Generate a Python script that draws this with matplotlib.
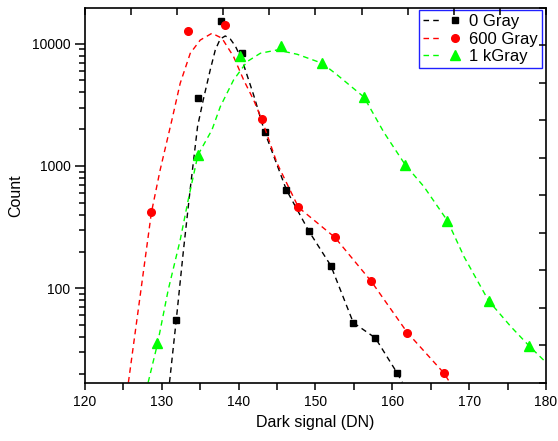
import matplotlib
matplotlib.use("Agg")
import matplotlib.pyplot as plt
from matplotlib.ticker import LogLocator, NullFormatter, MultipleLocator
from matplotlib.legend_handler import HandlerTuple

plt.rcParams["font.family"] = ["Liberation Sans", "DejaVu Sans"]

# measured points (histogram bins)
x_0gy = [131.87, 134.74, 137.65, 140.43, 143.39, 146.22, 149.13, 152.0, 154.9, 157.79, 160.65]
y_0gy = [55, 3580, 15400, 8440, 1900, 637, 294, 153, 52.4, 39.3, 20.2]
x_600gy = [128.65, 133.43, 138.17, 143.0, 147.78, 152.52, 157.26, 161.96, 166.74]
y_600gy = [418, 12700, 14200, 2410, 459, 261, 114, 43.4, 20.2]
x_1kgy = [129.39, 134.74, 140.22, 145.52, 150.87, 156.3, 161.7, 167.17, 172.52, 177.83]
y_1kgy = [35.7, 1232, 7980, 9630, 6913, 3662, 1018, 357, 79.3, 33.7]

# dashed fit curves
fx_0gy = [131.0, 131.87, 132.82, 133.73, 134.65, 135.39, 136.3, 136.96, 137.6, 138.26, 138.91,
          139.56, 140.44, 141.95, 143.39, 146.22, 149.13, 152.0, 154.92, 157.79, 160.65, 161.3]
fy_0gy = [17, 54.5, 206, 677, 2100, 3470, 6100, 8880, 10920, 11560, 10920,
          9580, 7360, 3800, 1897, 637, 294, 153, 52.4, 39.3, 20.2, 17]
fx_600gy = [125.65, 127.17, 128.65, 129.78, 131.31, 132.39, 133.7, 135.0, 136.53, 137.83, 139.34,
            140.65, 141.95, 143.0, 145.0, 147.78, 152.52, 157.26, 161.96, 166.74, 167.48]
fy_600gy = [17, 86, 418, 927, 2377, 4740, 8340, 10700, 12160, 11070, 7830,
            5050, 3465, 2410, 1052, 459, 261, 114, 43.4, 20.2, 17]
fx_1kgy = [128.22, 129.43, 130.83, 132.39, 133.43, 134.7, 136.52, 137.61, 139.34, 141.09, 142.83,
           145.0, 147.61, 150.87, 152.83, 156.3, 158.91, 161.7, 164.12, 167.17, 169.34, 172.52,
           175.43, 177.83, 180.0]
fy_1kgy = [17, 35, 97, 248, 527, 1232, 1970, 3055, 5050, 7130, 8350,
           8880, 8190, 6913, 5550, 3662, 1880, 1018, 677, 357, 181, 79.3,
           48.6, 33.7, 24.8]

labels = ["0 Gray", "600 Gray", "1 kGray"]
dash = (0, (4, 3))

fig = plt.figure(figsize=(5.58, 4.41), dpi=100)
ax = fig.add_axes([0.1523, 0.1322, 0.8262, 0.8497])

l0, = ax.plot(fx_0gy, fy_0gy, color="black", lw=1.0, linestyle=dash)
m0, = ax.plot(x_0gy, y_0gy, "s", color="black", ms=4.5, linestyle="none")
l1, = ax.plot(fx_600gy, fy_600gy, color="red", lw=1.0, linestyle=dash)
m1, = ax.plot(x_600gy, y_600gy, "o", color="red", ms=5.5, linestyle="none")
l2, = ax.plot(fx_1kgy, fy_1kgy, color="#00ff00", lw=1.0, linestyle=dash)
m2, = ax.plot(x_1kgy, y_1kgy, "^", color="#00ff00", ms=7, linestyle="none")

ax.set_yscale("log")
ax.set_xlim(120, 180)
ax.set_ylim(16.93, 19570)
ax.set_xticks(range(120, 181, 10))
ax.xaxis.set_minor_locator(MultipleLocator(5))
ax.set_yticks([100, 1000, 10000])
ax.set_yticklabels(["100", "1000", "10000"])
ax.yaxis.set_minor_locator(LogLocator(base=10, subs=range(2, 10)))
ax.yaxis.set_minor_formatter(NullFormatter())
ax.tick_params(which="major", direction="out", length=7, width=1.1, labelsize=10)
ax.tick_params(which="minor", direction="out", length=4, width=1.1)
ax.tick_params(axis="x", which="both", length=5)
for s in ax.spines.values():
    s.set_linewidth(1.2)

ax.set_xlabel("Dark signal (DN)", fontsize=11.5, labelpad=5)
ax.set_ylabel("Count", fontsize=11.5, labelpad=6)

leg = ax.legend([(l0, m0), (l1, m1), (l2, m2)], labels,
                handler_map={tuple: HandlerTuple(ndivide=None)},
                loc="upper right", bbox_to_anchor=(0.992, 0.9947), borderaxespad=0,
                fontsize=12, fancybox=False, framealpha=1, edgecolor="#2020ff",
                borderpad=0.25, labelspacing=0.15, handlelength=2.5, handletextpad=0.3,
                numpoints=1)
leg.get_frame().set_linewidth(1.0)

# opposite axes: plain inward ticks, 10 divisions
ax2 = fig.add_axes(ax.get_position(), frameon=False)
ax2.set_xlim(0, 10)
ax2.set_ylim(0, 10)
ax2.xaxis.tick_top()
ax2.yaxis.tick_right()
ax2.set_xticks(range(11))
ax2.set_yticks(range(11))
ax2.set_xticklabels([])
ax2.set_yticklabels([])
ax2.tick_params(direction="in", length=5, width=1.1)

plt.savefig("out.png", dpi=100)
